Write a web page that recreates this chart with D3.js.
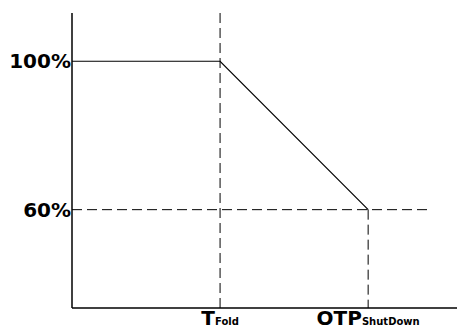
<!DOCTYPE html>
<html>
<head>
<meta charset="utf-8">
<script src="https://cdn.jsdelivr.net/npm/d3@7"></script>
<style>
  body { margin: 0; background: #fff; }
  svg { display: block; font-family: "DejaVu Sans", Verdana, sans-serif; }
</style>
</head>
<body>
<div id="chart"></div>
<script>
// Derating curve: output level vs temperature
const xMarks = [1, 2];                   // T_fold, OTP_shutdown (in step units)
const xMainLabels = ['T', 'OTP'];
const xSubLabels = ['Fold', 'ShutDown'];
const yLevels = [100, 60];
const yLabels = ['100%', '60%'];
const curveX = [0, 1, 2];
const curveY = [100, 100, 60];

const W = 457, H = 329;
const svg = d3.select('#chart').append('svg')
    .attr('width', W)
    .attr('height', H);

const x = d3.scaleLinear().domain([0, 2.6]).range([72, 457]);
const y = d3.scaleLinear().domain([33.5, 113]).range([308, 13]);

// Guide lines (dashed)
const dash = '10,5';
svg.append('line')
    .attr('x1', x(0)).attr('x2', x(2.4))
    .attr('y1', y(yLevels[1])).attr('y2', y(yLevels[1]))
    .attr('stroke', '#000').attr('stroke-width', 1)
    .attr('stroke-dasharray', dash);

svg.append('line')
    .attr('x1', x(xMarks[0])).attr('x2', x(xMarks[0]))
    .attr('y1', y(113)).attr('y2', y(33.5))
    .attr('stroke', '#000').attr('stroke-width', 1)
    .attr('stroke-dasharray', dash);

svg.append('line')
    .attr('x1', x(xMarks[1])).attr('x2', x(xMarks[1]))
    .attr('y1', y(yLevels[1])).attr('y2', y(33.5))
    .attr('stroke', '#000').attr('stroke-width', 1)
    .attr('stroke-dasharray', dash);

// Axes
svg.append('line')
    .attr('x1', x(0)).attr('x2', x(0))
    .attr('y1', y(113)).attr('y2', y(33.5))
    .attr('stroke', '#000').attr('stroke-width', 1.5);

svg.append('line')
    .attr('x1', x(0)).attr('x2', x(2.6))
    .attr('y1', y(33.5)).attr('y2', y(33.5))
    .attr('stroke', '#000').attr('stroke-width', 1.5);

// Curve
const line = d3.line()
    .x(d => x(d[0]))
    .y(d => y(d[1]));

svg.append('path')
    .datum(curveX.map((v, i) => [v, curveY[i]]))
    .attr('d', line)
    .attr('fill', 'none')
    .attr('stroke', '#000')
    .attr('stroke-width', 1.2);

// Y labels
svg.selectAll('.ylab')
    .data(yLevels)
    .join('text')
    .attr('class', 'ylab')
    .attr('x', x(0) - 1)
    .attr('y', d => y(d) + 7)
    .attr('text-anchor', 'end')
    .style('font-size', '20px')
    .style('font-weight', 'bold')
    .text((d, i) => yLabels[i]);

// X labels with subscripts
const xl = svg.selectAll('.xlab')
    .data(xMarks)
    .join('text')
    .attr('class', 'xlab')
    .attr('x', d => x(d))
    .attr('y', 325)
    .attr('text-anchor', 'middle')
    .style('font-weight', 'bold');

xl.append('tspan')
    .style('font-size', '20px')
    .text((d, i) => xMainLabels[i]);

xl.append('tspan')
    .style('font-size', '10px')
    .text((d, i) => xSubLabels[i]);
</script>
</body>
</html>
